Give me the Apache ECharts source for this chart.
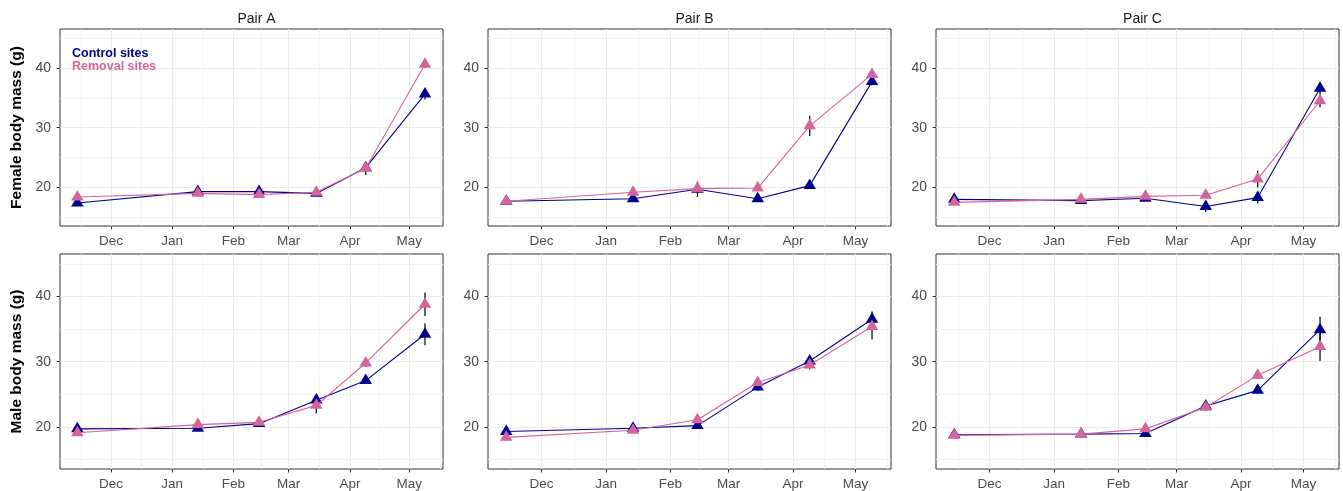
<!DOCTYPE html>
<html>
<head>
<meta charset="utf-8">
<script src="https://cdn.jsdelivr.net/npm/echarts@6/dist/echarts.min.js"></script>
<style>
html, body { margin: 0; padding: 0; background: #fff; }
#chart { width: 1343px; height: 491px; }
</style>
</head>
<body>
<div id="chart"></div>
<script>
// sampling dates (same for every pair)
var dates = ['2018-11-14', '2019-01-14', '2019-02-14', '2019-03-15', '2019-04-09', '2019-05-09'];
var pairs = ['Pair A', 'Pair B', 'Pair C'];
var rowTitles = ['Female body mass (g)', 'Male body mass (g)'];

// mean body mass (g)
var femCtrlA = [17.4, 19.3, 19.3, 19.0, 23.3, 35.6];
var femRemA  = [18.4, 19.0, 18.8, 19.2, 23.2, 40.6];
var femCtrlB = [17.7, 18.1, 19.7, 18.1, 20.3, 37.7];
var femRemB  = [17.7, 19.2, 19.8, 19.9, 30.3, 38.9];
var femCtrlC = [18.0, 17.8, 18.2, 16.8, 18.3, 36.6];
var femRemC  = [17.5, 18.0, 18.5, 18.7, 21.4, 34.5];
var maleCtrlA = [19.7, 19.8, 20.5, 24.1, 27.1, 34.2];
var maleRemA  = [19.1, 20.35, 20.7, 23.3, 29.8, 38.8];
var maleCtrlB = [19.3, 19.8, 20.2, 26.1, 30.1, 36.5];
var maleRemB  = [18.4, 19.5, 21.1, 26.8, 29.5, 35.4];
var maleCtrlC = [18.8, 18.9, 19.0, 23.2, 25.6, 34.9];
var maleRemC  = [18.7, 18.9, 19.7, 23.0, 27.9, 32.3];

// standard errors
var femCtrlAse = [0.3, 0.3, 0.3, 0.3, 0.5, 0.9];
var femRemAse  = [0.3, 0.3, 0.3, 0.3, 1.1, 0.6];
var femCtrlBse = [0.3, 0.3, 1.3, 0.3, 0.4, 0.6];
var femRemBse  = [0.3, 0.3, 0.4, 0.3, 1.7, 0.5];
var femCtrlCse = [0.3, 0.3, 0.4, 0.9, 1.0, 1.0];
var femRemCse  = [0.3, 0.3, 0.3, 0.3, 1.4, 1.1];
var maleCtrlAse = [0.3, 0.3, 0.3, 0.5, 0.5, 1.7];
var maleRemAse  = [0.3, 0.3, 0.3, 1.2, 0.6, 1.8];
var maleCtrlBse = [0.3, 0.3, 0.3, 0.6, 0.5, 1.2];
var maleRemBse  = [0.3, 0.3, 0.3, 0.5, 0.7, 2.0];
var maleCtrlCse = [0.3, 0.3, 0.3, 0.4, 0.5, 2.0];
var maleRemCse  = [0.3, 0.3, 0.3, 0.4, 0.5, 2.2];

// axis ticks
var monthTicks = ['2018-12-01', '2019-01-01', '2019-02-01', '2019-03-01', '2019-04-01', '2019-05-01'];
var monthMinor = ['2018-11-16', '2018-12-16 12', '2019-01-16 12', '2019-02-15', '2019-03-16 12', '2019-04-16', '2019-05-16 12'];
var monthNames = ['Jan', 'Feb', 'Mar', 'Apr', 'May', 'Jun', 'Jul', 'Aug', 'Sep', 'Oct', 'Nov', 'Dec'];
var massTicks = [20, 30, 40];
var massMinor = [15, 25, 35, 45];

var ctrl = [[femCtrlA, femCtrlB, femCtrlC], [maleCtrlA, maleCtrlB, maleCtrlC]];
var rem = [[femRemA, femRemB, femRemC], [maleRemA, maleRemB, maleRemC]];
var ctrlSe = [[femCtrlAse, femCtrlBse, femCtrlCse], [maleCtrlAse, maleCtrlBse, maleCtrlCse]];
var remSe = [[femRemAse, femRemBse, femRemCse], [maleRemAse, maleRemBse, maleRemCse]];

var navy = '#00008B';
var pink = '#D5649B';
var font = '"Liberation Sans", Arial, sans-serif';

// 'YYYY-MM-DD[ HH]' -> ms (UTC)
function ms(s) {
	var p = s.split(/[- ]/);
	return Date.UTC(+p[0], +p[1] - 1, +p[2], +(p[3] || 0));
}

var xMin = ms('2018-11-05 05');
var xMax = ms('2019-05-18 03');
var yMin = 13.55;
var yMax = 46.5;

var cols = [{left: 60, width: 383}, {left: 488, width: 403}, {left: 936, width: 403}];
var rows = [{top: 29, height: 197}, {top: 254, height: 215}];

var grids = [], xAxes = [], yAxes = [], series = [];

function errData(v, se) {
	return dates.map(function(d, i) { return [ms(d), v[i] - se[i], v[i] + se[i]]; });
}

function lineSeries(name, color, v, gi, z) {
	return {
		name: name,
		type: 'line',
		xAxisIndex: 2 * gi,
		yAxisIndex: 2 * gi,
		data: dates.map(function(d, i) { return [ms(d), v[i]]; }),
		symbol: 'triangle',
		symbolSize: [12.5, 10.5],
		symbolOffset: [0, -1.8],
		itemStyle: { color: color },
		lineStyle: { color: color, width: 1.1 },
		z: z
	};
}

for (var r = 0; r < 2; r++) {
	for (var c = 0; c < 3; c++) {
		var gi = r * 3 + c;
		grids.push({
			left: cols[c].left, width: cols[c].width,
			top: rows[r].top, height: rows[r].height,
			show: true, borderColor: '#333', borderWidth: 1, backgroundColor: '#fff'
		});
		// major x
		xAxes.push({
			type: 'value', gridIndex: gi, min: xMin, max: xMax,
			axisLine: { show: false },
			axisTick: { show: true, length: 3.5, customValues: monthTicks.map(ms), lineStyle: { color: '#333', width: 1 } },
			axisLabel: {
				customValues: monthTicks.map(ms), margin: 8, color: '#4D4D4D', fontSize: 13.5, fontFamily: font,
				formatter: function(val) { return monthNames[new Date(val).getUTCMonth()]; }
			},
			splitLine: { show: true, lineStyle: { color: '#EBEBEB', width: 1.1 } }
		});
		// minor x grid
		xAxes.push({
			type: 'value', gridIndex: gi, min: xMin, max: xMax,
			axisLine: { show: false },
			axisTick: { show: false, customValues: monthMinor.map(ms) },
			axisLabel: { show: false, customValues: monthMinor.map(ms) },
			splitLine: { show: true, lineStyle: { color: '#F1F1F1', width: 0.8 } }
		});
		// major y
		yAxes.push({
			type: 'value', gridIndex: gi, min: yMin, max: yMax,
			name: c === 0 ? rowTitles[r] : '',
			nameLocation: 'middle', nameGap: 35,
			nameTextStyle: { fontSize: 15.5, fontWeight: 'bold', color: '#000', fontFamily: font },
			axisLine: { show: false },
			axisTick: { show: true, length: 3.5, customValues: massTicks, lineStyle: { color: '#333', width: 1 } },
			axisLabel: { customValues: massTicks, margin: 9, color: '#4D4D4D', fontSize: 14, fontFamily: font },
			splitLine: { show: true, lineStyle: { color: '#EBEBEB', width: 1.1 } }
		});
		// minor y grid
		yAxes.push({
			type: 'value', gridIndex: gi, min: yMin, max: yMax,
			axisLine: { show: false },
			axisTick: { show: false, customValues: massMinor },
			axisLabel: { show: false, customValues: massMinor },
			splitLine: { show: true, lineStyle: { color: '#F1F1F1', width: 0.8 } }
		});

		[[ctrl[r][c], ctrlSe[r][c]], [rem[r][c], remSe[r][c]]].forEach(function(p) {
			series.push({
				type: 'custom',
				xAxisIndex: 2 * gi,
				yAxisIndex: 2 * gi,
				data: errData(p[0], p[1]),
				encode: { x: 0, y: [1, 2] },
				z: 2,
				silent: true,
				renderItem: function(params, api) {
					var x = api.value(0);
					var lo = api.coord([x, api.value(1)]);
					var hi = api.coord([x, api.value(2)]);
					return {
						type: 'line',
						shape: { x1: lo[0], y1: lo[1], x2: hi[0], y2: hi[1] },
						style: { stroke: '#000', lineWidth: 1.2 }
					};
				}
			});
		});
		series.push(lineSeries('Control sites', navy, ctrl[r][c], gi, 3));
		series.push(lineSeries('Removal sites', pink, rem[r][c], gi, 4));
	}
}

var chart = echarts.init(document.getElementById('chart'));
chart.setOption({
	animation: false,
	backgroundColor: '#fff',
	title: pairs.map(function(p, c) {
		return {
			text: p,
			left: cols[c].left + cols[c].width / 2,
			top: 7,
			textAlign: 'center',
			textStyle: { fontSize: 14, fontWeight: 'normal', color: '#1A1A1A', fontFamily: font }
		};
	}),
	legend: {
		data: [
			{ name: 'Control sites', textStyle: { color: navy } },
			{ name: 'Removal sites', textStyle: { color: pink } }
		],
		icon: 'none',
		orient: 'vertical',
		left: 62,
		top: 42,
		itemWidth: 0,
		itemHeight: 8,
		itemGap: 0,
		selectedMode: false,
		textStyle: { fontSize: 12.5, fontWeight: 'bold', fontFamily: font, lineHeight: 12 }
	},
	grid: grids,
	xAxis: xAxes,
	yAxis: yAxes,
	series: series
});
</script>
</body>
</html>
